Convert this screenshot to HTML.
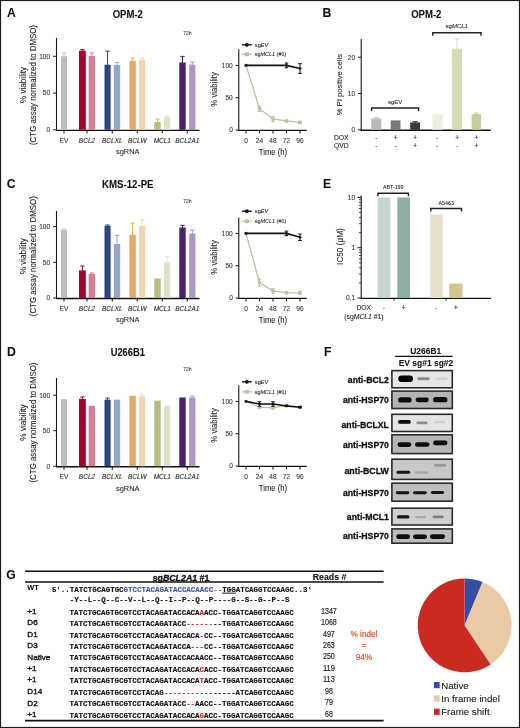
<!DOCTYPE html>
<html><head><meta charset="utf-8"><style>
html,body{margin:0;padding:0;background:#fff;}
svg{display:block;filter:blur(0.3px);}

</style></head><body>
<svg width="520" height="728" viewBox="0 0 520 728">
<defs><filter id="bl" x="-20%" y="-60%" width="140%" height="220%"><feGaussianBlur stdDeviation="0.75"/></filter></defs>
<rect width="520" height="728" fill="#fff"/>
<rect x="0.5" y="0.5" width="519" height="727" fill="none" stroke="#1a1a1a" stroke-width="1.2"/>
<text stroke="#111" stroke-width="0.08" x="7.0" y="17" font-size="12.2" text-anchor="start" font-weight="bold" font-style="normal" fill="#111" font-family="Liberation Sans" >A</text>
<text stroke="#111" stroke-width="0.08" x="322.6" y="17" font-size="12.2" text-anchor="start" font-weight="bold" font-style="normal" fill="#111" font-family="Liberation Sans" >B</text>
<text stroke="#111" stroke-width="0.08" x="6.7" y="187.7" font-size="12.2" text-anchor="start" font-weight="bold" font-style="normal" fill="#111" font-family="Liberation Sans" >C</text>
<text stroke="#111" stroke-width="0.08" x="7.1" y="355.7" font-size="12.2" text-anchor="start" font-weight="bold" font-style="normal" fill="#111" font-family="Liberation Sans" >D</text>
<text stroke="#111" stroke-width="0.08" x="323.0" y="187.9" font-size="12.2" text-anchor="start" font-weight="bold" font-style="normal" fill="#111" font-family="Liberation Sans" >E</text>
<text stroke="#111" stroke-width="0.08" x="324.0" y="355.6" font-size="12.2" text-anchor="start" font-weight="bold" font-style="normal" fill="#111" font-family="Liberation Sans" >F</text>
<text stroke="#111" stroke-width="0.08" x="6.3" y="578.5" font-size="12.2" text-anchor="start" font-weight="bold" font-style="normal" fill="#111" font-family="Liberation Sans" >G</text>
<line x1="56.5" y1="38" x2="56.5" y2="130.3" stroke="#1a1a1a" stroke-width="1.1" />
<line x1="56.0" y1="130.3" x2="199.5" y2="130.3" stroke="#111" stroke-width="1.35" />
<line x1="53.2" y1="129.8" x2="56.5" y2="129.8" stroke="#1a1a1a" stroke-width="1" />
<text stroke="#333" stroke-width="0.08" x="50.2" y="132.20000000000002" font-size="6.6" text-anchor="end" font-weight="normal" font-style="normal" fill="#333" font-family="Liberation Sans" >0</text>
<line x1="53.2" y1="93.05000000000001" x2="56.5" y2="93.05000000000001" stroke="#1a1a1a" stroke-width="1" />
<text stroke="#333" stroke-width="0.08" x="50.2" y="95.45000000000002" font-size="6.6" text-anchor="end" font-weight="normal" font-style="normal" fill="#333" font-family="Liberation Sans" >50</text>
<line x1="53.2" y1="56.3" x2="56.5" y2="56.3" stroke="#1a1a1a" stroke-width="1" />
<text stroke="#333" stroke-width="0.08" x="50.2" y="58.699999999999996" font-size="6.6" text-anchor="end" font-weight="normal" font-style="normal" fill="#333" font-family="Liberation Sans" >100</text>
<line x1="64" y1="129.8" x2="64" y2="133.4" stroke="#222" stroke-width="1.1" />
<line x1="87" y1="129.8" x2="87" y2="133.4" stroke="#222" stroke-width="1.1" />
<line x1="112.3" y1="129.8" x2="112.3" y2="133.4" stroke="#222" stroke-width="1.1" />
<line x1="137.3" y1="129.8" x2="137.3" y2="133.4" stroke="#222" stroke-width="1.1" />
<line x1="162.3" y1="129.8" x2="162.3" y2="133.4" stroke="#222" stroke-width="1.1" />
<line x1="187.3" y1="129.8" x2="187.3" y2="133.4" stroke="#222" stroke-width="1.1" />
<text stroke="#222" stroke-width="0.08" x="64" y="142.5" font-size="6.5" text-anchor="middle" font-weight="normal" font-style="normal" fill="#222" font-family="Liberation Sans" >EV</text>
<text stroke="#222" stroke-width="0.08" x="87" y="142.5" font-size="6.5" text-anchor="middle" font-weight="normal" font-style="italic" fill="#222" font-family="Liberation Sans" >BCL2</text>
<text stroke="#222" stroke-width="0.08" x="112.3" y="142.5" font-size="6.5" text-anchor="middle" font-weight="normal" font-style="italic" fill="#222" font-family="Liberation Sans" >BCLXL</text>
<text stroke="#222" stroke-width="0.08" x="137.3" y="142.5" font-size="6.5" text-anchor="middle" font-weight="normal" font-style="italic" fill="#222" font-family="Liberation Sans" >BCLW</text>
<text stroke="#222" stroke-width="0.08" x="162.3" y="142.5" font-size="6.5" text-anchor="middle" font-weight="normal" font-style="italic" fill="#222" font-family="Liberation Sans" >MCL1</text>
<text stroke="#222" stroke-width="0.08" x="187.3" y="142.5" font-size="6.5" text-anchor="middle" font-weight="normal" font-style="italic" fill="#222" font-family="Liberation Sans" >BCL2A1</text>
<text stroke="#222" stroke-width="0.08" x="127.7" y="154.20000000000002" font-size="8.0" text-anchor="middle" font-weight="normal" font-style="normal" fill="#222" font-family="Liberation Sans" textLength="23.4" lengthAdjust="spacingAndGlyphs">sgRNA</text>
<text stroke="#222" stroke-width="0.08" transform="translate(25.9,85) rotate(-90)" font-size="8.2" text-anchor="middle" fill="#222" font-family="Liberation Sans" textLength="36.3" lengthAdjust="spacingAndGlyphs">% viability</text>
<text stroke="#222" stroke-width="0.08" transform="translate(36.4,85) rotate(-90)" font-size="8.4" text-anchor="middle" fill="#222" font-family="Liberation Sans" textLength="120" lengthAdjust="spacingAndGlyphs">(CTG assay normalized to DMSO)</text>
<text stroke="#111" stroke-width="0.08" x="127.8" y="17.8" font-size="10.2" text-anchor="middle" font-weight="bold" font-style="normal" fill="#111" font-family="Liberation Sans" textLength="30.2" lengthAdjust="spacingAndGlyphs">OPM-2</text>
<text stroke="#333" stroke-width="0.08" x="187.3" y="35" font-size="5.0" text-anchor="middle" font-weight="normal" font-style="normal" fill="#333" font-family="Liberation Sans" >72h</text>
<line x1="64.0" y1="52.9" x2="64.0" y2="57.3" stroke="#bdbdbd" stroke-width="1" />
<line x1="61.8" y1="52.9" x2="66.2" y2="52.9" stroke="#bdbdbd" stroke-width="1" />
<rect x="61" y="56.3" width="6" height="73.50000000000001" fill="#bdbdbd" />
<line x1="82.4" y1="49.6" x2="82.4" y2="51.7" stroke="#a8002c" stroke-width="1" />
<line x1="80.2" y1="49.6" x2="84.60000000000001" y2="49.6" stroke="#a8002c" stroke-width="1" />
<rect x="79" y="50.7" width="6.799999999999997" height="79.10000000000001" fill="#a8002c" />
<line x1="91.8" y1="53" x2="91.8" y2="56.9" stroke="#d47f92" stroke-width="1" />
<line x1="89.6" y1="53" x2="94.0" y2="53" stroke="#d47f92" stroke-width="1" />
<rect x="88.6" y="55.9" width="6.400000000000006" height="73.9" fill="#d47f92" />
<line x1="107.55" y1="51.2" x2="107.55" y2="65.7" stroke="#2d4585" stroke-width="1" />
<line x1="105.35" y1="51.2" x2="109.75" y2="51.2" stroke="#2d4585" stroke-width="1" />
<rect x="104.5" y="64.7" width="6.099999999999994" height="65.10000000000001" fill="#2d4585" />
<line x1="117.0" y1="62.5" x2="117.0" y2="66" stroke="#96a6c4" stroke-width="1" />
<line x1="114.8" y1="62.5" x2="119.2" y2="62.5" stroke="#96a6c4" stroke-width="1" />
<rect x="113.8" y="65" width="6.400000000000006" height="64.80000000000001" fill="#96a6c4" />
<line x1="132.60000000000002" y1="58" x2="132.60000000000002" y2="61.8" stroke="#e5aa66" stroke-width="1" />
<line x1="130.40000000000003" y1="58" x2="134.8" y2="58" stroke="#e5aa66" stroke-width="1" />
<rect x="129.4" y="60.8" width="6.400000000000006" height="69.00000000000001" fill="#e5aa66" />
<line x1="142.1" y1="58" x2="142.1" y2="61" stroke="#f0d4ae" stroke-width="1" />
<line x1="139.9" y1="58" x2="144.29999999999998" y2="58" stroke="#f0d4ae" stroke-width="1" />
<rect x="139" y="60" width="6.199999999999989" height="69.80000000000001" fill="#f0d4ae" />
<line x1="157.5" y1="119" x2="157.5" y2="123" stroke="#b4be80" stroke-width="1" />
<line x1="155.3" y1="119" x2="159.7" y2="119" stroke="#b4be80" stroke-width="1" />
<rect x="154.3" y="122" width="6.399999999999977" height="7.800000000000011" fill="#b4be80" />
<line x1="167.1" y1="116" x2="167.1" y2="118.2" stroke="#dce2c8" stroke-width="1" />
<line x1="164.9" y1="116" x2="169.29999999999998" y2="116" stroke="#dce2c8" stroke-width="1" />
<rect x="164" y="117.2" width="6.199999999999989" height="12.600000000000009" fill="#dce2c8" />
<line x1="182.5" y1="56.4" x2="182.5" y2="63.5" stroke="#4a2068" stroke-width="1" />
<line x1="180.3" y1="56.4" x2="184.7" y2="56.4" stroke="#4a2068" stroke-width="1" />
<rect x="179.3" y="62.5" width="6.399999999999977" height="67.30000000000001" fill="#4a2068" />
<line x1="192.3" y1="62" x2="192.3" y2="65.6" stroke="#a898c4" stroke-width="1" />
<line x1="190.10000000000002" y1="62" x2="194.5" y2="62" stroke="#a898c4" stroke-width="1" />
<rect x="189.2" y="64.6" width="6.200000000000017" height="65.20000000000002" fill="#a898c4" />
<line x1="56.5" y1="211" x2="56.5" y2="298.5" stroke="#1a1a1a" stroke-width="1.1" />
<line x1="56.0" y1="298.5" x2="199.5" y2="298.5" stroke="#111" stroke-width="1.35" />
<line x1="53.2" y1="298" x2="56.5" y2="298" stroke="#1a1a1a" stroke-width="1" />
<text stroke="#333" stroke-width="0.08" x="50.2" y="300.4" font-size="6.6" text-anchor="end" font-weight="normal" font-style="normal" fill="#333" font-family="Liberation Sans" >0</text>
<line x1="53.2" y1="262.3" x2="56.5" y2="262.3" stroke="#1a1a1a" stroke-width="1" />
<text stroke="#333" stroke-width="0.08" x="50.2" y="264.7" font-size="6.6" text-anchor="end" font-weight="normal" font-style="normal" fill="#333" font-family="Liberation Sans" >50</text>
<line x1="53.2" y1="226.6" x2="56.5" y2="226.6" stroke="#1a1a1a" stroke-width="1" />
<text stroke="#333" stroke-width="0.08" x="50.2" y="229.0" font-size="6.6" text-anchor="end" font-weight="normal" font-style="normal" fill="#333" font-family="Liberation Sans" >100</text>
<line x1="64" y1="298" x2="64" y2="301.6" stroke="#222" stroke-width="1.1" />
<line x1="87" y1="298" x2="87" y2="301.6" stroke="#222" stroke-width="1.1" />
<line x1="112.3" y1="298" x2="112.3" y2="301.6" stroke="#222" stroke-width="1.1" />
<line x1="137.3" y1="298" x2="137.3" y2="301.6" stroke="#222" stroke-width="1.1" />
<line x1="162.3" y1="298" x2="162.3" y2="301.6" stroke="#222" stroke-width="1.1" />
<line x1="187.3" y1="298" x2="187.3" y2="301.6" stroke="#222" stroke-width="1.1" />
<text stroke="#222" stroke-width="0.08" x="64" y="310.7" font-size="6.5" text-anchor="middle" font-weight="normal" font-style="normal" fill="#222" font-family="Liberation Sans" >EV</text>
<text stroke="#222" stroke-width="0.08" x="87" y="310.7" font-size="6.5" text-anchor="middle" font-weight="normal" font-style="italic" fill="#222" font-family="Liberation Sans" >BCL2</text>
<text stroke="#222" stroke-width="0.08" x="112.3" y="310.7" font-size="6.5" text-anchor="middle" font-weight="normal" font-style="italic" fill="#222" font-family="Liberation Sans" >BCLXL</text>
<text stroke="#222" stroke-width="0.08" x="137.3" y="310.7" font-size="6.5" text-anchor="middle" font-weight="normal" font-style="italic" fill="#222" font-family="Liberation Sans" >BCLW</text>
<text stroke="#222" stroke-width="0.08" x="162.3" y="310.7" font-size="6.5" text-anchor="middle" font-weight="normal" font-style="italic" fill="#222" font-family="Liberation Sans" >MCL1</text>
<text stroke="#222" stroke-width="0.08" x="187.3" y="310.7" font-size="6.5" text-anchor="middle" font-weight="normal" font-style="italic" fill="#222" font-family="Liberation Sans" >BCL2A1</text>
<text stroke="#222" stroke-width="0.08" x="127.7" y="322.4" font-size="8.0" text-anchor="middle" font-weight="normal" font-style="normal" fill="#222" font-family="Liberation Sans" textLength="23.4" lengthAdjust="spacingAndGlyphs">sgRNA</text>
<text stroke="#222" stroke-width="0.08" transform="translate(25.9,256.2) rotate(-90)" font-size="8.2" text-anchor="middle" fill="#222" font-family="Liberation Sans" textLength="36.3" lengthAdjust="spacingAndGlyphs">% viability</text>
<text stroke="#222" stroke-width="0.08" transform="translate(36.4,256.2) rotate(-90)" font-size="8.4" text-anchor="middle" fill="#222" font-family="Liberation Sans" textLength="120" lengthAdjust="spacingAndGlyphs">(CTG assay normalized to DMSO)</text>
<text stroke="#111" stroke-width="0.08" x="127.8" y="188" font-size="10.2" text-anchor="middle" font-weight="bold" font-style="normal" fill="#111" font-family="Liberation Sans" textLength="51.4" lengthAdjust="spacingAndGlyphs">KMS-12-PE</text>
<text stroke="#333" stroke-width="0.08" x="187.3" y="203" font-size="5.0" text-anchor="middle" font-weight="normal" font-style="normal" fill="#333" font-family="Liberation Sans" >72h</text>
<line x1="64.0" y1="229" x2="64.0" y2="231" stroke="#bdbdbd" stroke-width="1" />
<line x1="61.8" y1="229" x2="66.2" y2="229" stroke="#bdbdbd" stroke-width="1" />
<rect x="61" y="230" width="6" height="68" fill="#bdbdbd" />
<line x1="82.4" y1="266" x2="82.4" y2="271.4" stroke="#a8002c" stroke-width="1" />
<line x1="80.2" y1="266" x2="84.60000000000001" y2="266" stroke="#a8002c" stroke-width="1" />
<rect x="79" y="270.4" width="6.799999999999997" height="27.600000000000023" fill="#a8002c" />
<line x1="91.8" y1="273" x2="91.8" y2="274.9" stroke="#d47f92" stroke-width="1" />
<line x1="89.6" y1="273" x2="94.0" y2="273" stroke="#d47f92" stroke-width="1" />
<rect x="88.6" y="273.9" width="6.400000000000006" height="24.100000000000023" fill="#d47f92" />
<line x1="107.55" y1="225" x2="107.55" y2="226.8" stroke="#2d4585" stroke-width="1" />
<line x1="105.35" y1="225" x2="109.75" y2="225" stroke="#2d4585" stroke-width="1" />
<rect x="104.5" y="225.8" width="6.099999999999994" height="72.19999999999999" fill="#2d4585" />
<line x1="117.0" y1="235.3" x2="117.0" y2="245" stroke="#96a6c4" stroke-width="1" />
<line x1="114.8" y1="235.3" x2="119.2" y2="235.3" stroke="#96a6c4" stroke-width="1" />
<rect x="113.8" y="244" width="6.400000000000006" height="54" fill="#96a6c4" />
<line x1="132.60000000000002" y1="223.2" x2="132.60000000000002" y2="235.8" stroke="#e5aa66" stroke-width="1" />
<line x1="130.40000000000003" y1="223.2" x2="134.8" y2="223.2" stroke="#e5aa66" stroke-width="1" />
<rect x="129.4" y="234.8" width="6.400000000000006" height="63.19999999999999" fill="#e5aa66" />
<line x1="142.1" y1="219.7" x2="142.1" y2="226.8" stroke="#f0d4ae" stroke-width="1" />
<line x1="139.9" y1="219.7" x2="144.29999999999998" y2="219.7" stroke="#f0d4ae" stroke-width="1" />
<rect x="139" y="225.8" width="6.199999999999989" height="72.19999999999999" fill="#f0d4ae" />
<rect x="154.3" y="278.5" width="6.399999999999977" height="19.5" fill="#b4be80" />
<line x1="167.1" y1="256.6" x2="167.1" y2="263.4" stroke="#dce2c8" stroke-width="1" />
<line x1="164.9" y1="256.6" x2="169.29999999999998" y2="256.6" stroke="#dce2c8" stroke-width="1" />
<rect x="164" y="262.4" width="6.199999999999989" height="35.60000000000002" fill="#dce2c8" />
<line x1="182.5" y1="225.4" x2="182.5" y2="228.5" stroke="#4a2068" stroke-width="1" />
<line x1="180.3" y1="225.4" x2="184.7" y2="225.4" stroke="#4a2068" stroke-width="1" />
<rect x="179.3" y="227.5" width="6.399999999999977" height="70.5" fill="#4a2068" />
<line x1="192.3" y1="230" x2="192.3" y2="234.5" stroke="#a898c4" stroke-width="1" />
<line x1="190.10000000000002" y1="230" x2="194.5" y2="230" stroke="#a898c4" stroke-width="1" />
<rect x="189.2" y="233.5" width="6.200000000000017" height="64.5" fill="#a898c4" />
<line x1="56.5" y1="378" x2="56.5" y2="466.7" stroke="#1a1a1a" stroke-width="1.1" />
<line x1="56.0" y1="466.7" x2="199.5" y2="466.7" stroke="#111" stroke-width="1.35" />
<line x1="53.2" y1="466.2" x2="56.5" y2="466.2" stroke="#1a1a1a" stroke-width="1" />
<text stroke="#333" stroke-width="0.08" x="50.2" y="468.59999999999997" font-size="6.6" text-anchor="end" font-weight="normal" font-style="normal" fill="#333" font-family="Liberation Sans" >0</text>
<line x1="53.2" y1="430.7" x2="56.5" y2="430.7" stroke="#1a1a1a" stroke-width="1" />
<text stroke="#333" stroke-width="0.08" x="50.2" y="433.09999999999997" font-size="6.6" text-anchor="end" font-weight="normal" font-style="normal" fill="#333" font-family="Liberation Sans" >50</text>
<line x1="53.2" y1="395.2" x2="56.5" y2="395.2" stroke="#1a1a1a" stroke-width="1" />
<text stroke="#333" stroke-width="0.08" x="50.2" y="397.59999999999997" font-size="6.6" text-anchor="end" font-weight="normal" font-style="normal" fill="#333" font-family="Liberation Sans" >100</text>
<line x1="64" y1="466.2" x2="64" y2="469.8" stroke="#222" stroke-width="1.1" />
<line x1="87" y1="466.2" x2="87" y2="469.8" stroke="#222" stroke-width="1.1" />
<line x1="112.3" y1="466.2" x2="112.3" y2="469.8" stroke="#222" stroke-width="1.1" />
<line x1="137.3" y1="466.2" x2="137.3" y2="469.8" stroke="#222" stroke-width="1.1" />
<line x1="162.3" y1="466.2" x2="162.3" y2="469.8" stroke="#222" stroke-width="1.1" />
<line x1="187.3" y1="466.2" x2="187.3" y2="469.8" stroke="#222" stroke-width="1.1" />
<text stroke="#222" stroke-width="0.08" x="64" y="478.9" font-size="6.5" text-anchor="middle" font-weight="normal" font-style="normal" fill="#222" font-family="Liberation Sans" >EV</text>
<text stroke="#222" stroke-width="0.08" x="87" y="478.9" font-size="6.5" text-anchor="middle" font-weight="normal" font-style="italic" fill="#222" font-family="Liberation Sans" >BCL2</text>
<text stroke="#222" stroke-width="0.08" x="112.3" y="478.9" font-size="6.5" text-anchor="middle" font-weight="normal" font-style="italic" fill="#222" font-family="Liberation Sans" >BCLXL</text>
<text stroke="#222" stroke-width="0.08" x="137.3" y="478.9" font-size="6.5" text-anchor="middle" font-weight="normal" font-style="italic" fill="#222" font-family="Liberation Sans" >BCLW</text>
<text stroke="#222" stroke-width="0.08" x="162.3" y="478.9" font-size="6.5" text-anchor="middle" font-weight="normal" font-style="italic" fill="#222" font-family="Liberation Sans" >MCL1</text>
<text stroke="#222" stroke-width="0.08" x="187.3" y="478.9" font-size="6.5" text-anchor="middle" font-weight="normal" font-style="italic" fill="#222" font-family="Liberation Sans" >BCL2A1</text>
<text stroke="#222" stroke-width="0.08" x="127.7" y="490.59999999999997" font-size="8.0" text-anchor="middle" font-weight="normal" font-style="normal" fill="#222" font-family="Liberation Sans" textLength="23.4" lengthAdjust="spacingAndGlyphs">sgRNA</text>
<text stroke="#222" stroke-width="0.08" transform="translate(25.9,422.5) rotate(-90)" font-size="8.2" text-anchor="middle" fill="#222" font-family="Liberation Sans" textLength="36.3" lengthAdjust="spacingAndGlyphs">% viability</text>
<text stroke="#222" stroke-width="0.08" transform="translate(36.4,422.5) rotate(-90)" font-size="8.4" text-anchor="middle" fill="#222" font-family="Liberation Sans" textLength="120" lengthAdjust="spacingAndGlyphs">(CTG assay normalized to DMSO)</text>
<text stroke="#111" stroke-width="0.08" x="127.8" y="356.4" font-size="10.2" text-anchor="middle" font-weight="bold" font-style="normal" fill="#111" font-family="Liberation Sans" textLength="34.2" lengthAdjust="spacingAndGlyphs">U266B1</text>
<text stroke="#333" stroke-width="0.08" x="187.3" y="370.5" font-size="5.0" text-anchor="middle" font-weight="normal" font-style="normal" fill="#333" font-family="Liberation Sans" >72h</text>
<rect x="61" y="399.2" width="6" height="67.0" fill="#bdbdbd" />
<line x1="82.4" y1="397" x2="82.4" y2="399.9" stroke="#a8002c" stroke-width="1" />
<line x1="80.2" y1="397" x2="84.60000000000001" y2="397" stroke="#a8002c" stroke-width="1" />
<rect x="79" y="398.9" width="6.799999999999997" height="67.30000000000001" fill="#a8002c" />
<rect x="88.6" y="405.8" width="6.400000000000006" height="60.39999999999998" fill="#d47f92" />
<line x1="107.55" y1="398" x2="107.55" y2="400.7" stroke="#2d4585" stroke-width="1" />
<line x1="105.35" y1="398" x2="109.75" y2="398" stroke="#2d4585" stroke-width="1" />
<rect x="104.5" y="399.7" width="6.099999999999994" height="66.5" fill="#2d4585" />
<rect x="113.8" y="399.6" width="6.400000000000006" height="66.59999999999997" fill="#96a6c4" />
<rect x="129.4" y="395.8" width="6.400000000000006" height="70.39999999999998" fill="#e5aa66" />
<line x1="142.1" y1="395" x2="142.1" y2="397.6" stroke="#f0d4ae" stroke-width="1" />
<line x1="139.9" y1="395" x2="144.29999999999998" y2="395" stroke="#f0d4ae" stroke-width="1" />
<rect x="139" y="396.6" width="6.199999999999989" height="69.59999999999997" fill="#f0d4ae" />
<rect x="154.3" y="400.6" width="6.399999999999977" height="65.59999999999997" fill="#b4be80" />
<rect x="164" y="405.8" width="6.199999999999989" height="60.39999999999998" fill="#dce2c8" />
<rect x="179.3" y="397.5" width="6.399999999999977" height="68.69999999999999" fill="#4a2068" />
<line x1="192.3" y1="396" x2="192.3" y2="398.5" stroke="#a898c4" stroke-width="1" />
<line x1="190.10000000000002" y1="396" x2="194.5" y2="396" stroke="#a898c4" stroke-width="1" />
<rect x="189.2" y="397.5" width="6.200000000000017" height="68.69999999999999" fill="#a898c4" />
<line x1="238.8" y1="49.2" x2="238.8" y2="130.5" stroke="#1a1a1a" stroke-width="1.1" />
<line x1="238.3" y1="130.4" x2="306.8" y2="130.4" stroke="#111" stroke-width="1.35" />
<line x1="235.6" y1="130.0" x2="238.8" y2="130.0" stroke="#1a1a1a" stroke-width="1" />
<text stroke="#333" stroke-width="0.08" x="232.8" y="132.4" font-size="6.6" text-anchor="end" font-weight="normal" font-style="normal" fill="#333" font-family="Liberation Sans" >0</text>
<line x1="235.6" y1="97.69999999999999" x2="238.8" y2="97.69999999999999" stroke="#1a1a1a" stroke-width="1" />
<text stroke="#333" stroke-width="0.08" x="232.8" y="100.1" font-size="6.6" text-anchor="end" font-weight="normal" font-style="normal" fill="#333" font-family="Liberation Sans" >50</text>
<line x1="235.6" y1="65.39999999999999" x2="238.8" y2="65.39999999999999" stroke="#1a1a1a" stroke-width="1" />
<text stroke="#333" stroke-width="0.08" x="232.8" y="67.8" font-size="6.6" text-anchor="end" font-weight="normal" font-style="normal" fill="#333" font-family="Liberation Sans" >100</text>
<line x1="246" y1="130" x2="246" y2="133.4" stroke="#222" stroke-width="1.1" />
<text stroke="#333" stroke-width="0.08" x="246" y="143" font-size="6.6" text-anchor="middle" font-weight="normal" font-style="normal" fill="#333" font-family="Liberation Sans" >0</text>
<line x1="259.5" y1="130" x2="259.5" y2="133.4" stroke="#222" stroke-width="1.1" />
<text stroke="#333" stroke-width="0.08" x="259.5" y="143" font-size="6.6" text-anchor="middle" font-weight="normal" font-style="normal" fill="#333" font-family="Liberation Sans" >24</text>
<line x1="273" y1="130" x2="273" y2="133.4" stroke="#222" stroke-width="1.1" />
<text stroke="#333" stroke-width="0.08" x="273" y="143" font-size="6.6" text-anchor="middle" font-weight="normal" font-style="normal" fill="#333" font-family="Liberation Sans" >48</text>
<line x1="286.5" y1="130" x2="286.5" y2="133.4" stroke="#222" stroke-width="1.1" />
<text stroke="#333" stroke-width="0.08" x="286.5" y="143" font-size="6.6" text-anchor="middle" font-weight="normal" font-style="normal" fill="#333" font-family="Liberation Sans" >72</text>
<line x1="300" y1="130" x2="300" y2="133.4" stroke="#222" stroke-width="1.1" />
<text stroke="#333" stroke-width="0.08" x="300" y="143" font-size="6.6" text-anchor="middle" font-weight="normal" font-style="normal" fill="#333" font-family="Liberation Sans" >96</text>
<text stroke="#222" stroke-width="0.08" x="273.0" y="154.5" font-size="8.8" text-anchor="middle" font-weight="normal" font-style="normal" fill="#222" font-family="Liberation Sans" textLength="28.3" lengthAdjust="spacingAndGlyphs">Time (h)</text>
<text stroke="#222" stroke-width="0.08" transform="translate(217.2,89.4) rotate(-90)" font-size="8.2" text-anchor="middle" fill="#222" font-family="Liberation Sans" textLength="34.6" lengthAdjust="spacingAndGlyphs">% viability</text>
<line x1="242" y1="44.8" x2="251.8" y2="44.8" stroke="#111" stroke-width="1.4" />
<circle cx="246.8" cy="44.8" r="1.9" fill="#111"/>
<line x1="242" y1="54.3" x2="251.8" y2="54.3" stroke="#bcc09c" stroke-width="1.2" />
<rect x="244.7" y="52.4" width="4.2" height="3.8" fill="#bcc09c" />
<text stroke="#222" stroke-width="0.08" x="254.8" y="46.8" font-size="5.7" fill="#222" font-family="Liberation Sans">sg<tspan font-style="italic">EV</tspan></text>
<text stroke="#222" stroke-width="0.08" x="254.8" y="56.3" font-size="5.7" fill="#222" font-family="Liberation Sans" textLength="31.5" lengthAdjust="spacingAndGlyphs">sg<tspan font-style="italic">MCL1</tspan> (#1)</text>
<polyline points="246,65.39999999999999 259.5,108.682 273,119.018 286.5,120.956 300,122.3772" fill="none" stroke="#bcc09c" stroke-width="1.25"/>
<rect x="244.4" y="63.79999999999999" width="3.2" height="3.2" fill="#bcc09c" />
<line x1="259.5" y1="105.9042" x2="259.5" y2="111.4598" stroke="#bcc09c" stroke-width="1" />
<line x1="257.7" y1="105.9042" x2="261.3" y2="105.9042" stroke="#bcc09c" stroke-width="1" />
<line x1="257.7" y1="111.4598" x2="261.3" y2="111.4598" stroke="#bcc09c" stroke-width="1" />
<rect x="257.9" y="107.08200000000001" width="3.2" height="3.2" fill="#bcc09c" />
<line x1="273" y1="116.434" x2="273" y2="121.602" stroke="#bcc09c" stroke-width="1" />
<line x1="271.2" y1="116.434" x2="274.8" y2="116.434" stroke="#bcc09c" stroke-width="1" />
<line x1="271.2" y1="121.602" x2="274.8" y2="121.602" stroke="#bcc09c" stroke-width="1" />
<rect x="271.4" y="117.418" width="3.2" height="3.2" fill="#bcc09c" />
<line x1="286.5" y1="119.987" x2="286.5" y2="121.925" stroke="#bcc09c" stroke-width="1" />
<line x1="284.7" y1="119.987" x2="288.3" y2="119.987" stroke="#bcc09c" stroke-width="1" />
<line x1="284.7" y1="121.925" x2="288.3" y2="121.925" stroke="#bcc09c" stroke-width="1" />
<rect x="284.9" y="119.35600000000001" width="3.2" height="3.2" fill="#bcc09c" />
<line x1="300" y1="121.0852" x2="300" y2="123.6692" stroke="#bcc09c" stroke-width="1" />
<line x1="298.2" y1="121.0852" x2="301.8" y2="121.0852" stroke="#bcc09c" stroke-width="1" />
<line x1="298.2" y1="123.6692" x2="301.8" y2="123.6692" stroke="#bcc09c" stroke-width="1" />
<rect x="298.4" y="120.77720000000001" width="3.2" height="3.2" fill="#bcc09c" />
<polyline points="246,65.39999999999999 286.5,65.39999999999999 300,68.5008" fill="none" stroke="#111" stroke-width="1.6"/>
<circle cx="246" cy="65.39999999999999" r="1.4" fill="#111"/>
<line x1="286.5" y1="63.0098" x2="286.5" y2="67.7902" stroke="#111" stroke-width="1" />
<line x1="284.7" y1="63.0098" x2="288.3" y2="63.0098" stroke="#111" stroke-width="1" />
<line x1="284.7" y1="67.7902" x2="288.3" y2="67.7902" stroke="#111" stroke-width="1" />
<circle cx="286.5" cy="65.39999999999999" r="1.4" fill="#111"/>
<line x1="300" y1="63.6558" x2="300" y2="73.3458" stroke="#111" stroke-width="1" />
<line x1="298.2" y1="63.6558" x2="301.8" y2="63.6558" stroke="#111" stroke-width="1" />
<line x1="298.2" y1="73.3458" x2="301.8" y2="73.3458" stroke="#111" stroke-width="1" />
<circle cx="300" cy="68.5008" r="1.4" fill="#111"/>
<line x1="238.8" y1="217.6" x2="238.8" y2="298.5" stroke="#1a1a1a" stroke-width="1.1" />
<line x1="238.3" y1="298.4" x2="306.8" y2="298.4" stroke="#111" stroke-width="1.35" />
<line x1="235.6" y1="298.0" x2="238.8" y2="298.0" stroke="#1a1a1a" stroke-width="1" />
<text stroke="#333" stroke-width="0.08" x="232.8" y="300.4" font-size="6.6" text-anchor="end" font-weight="normal" font-style="normal" fill="#333" font-family="Liberation Sans" >0</text>
<line x1="235.6" y1="265.7" x2="238.8" y2="265.7" stroke="#1a1a1a" stroke-width="1" />
<text stroke="#333" stroke-width="0.08" x="232.8" y="268.09999999999997" font-size="6.6" text-anchor="end" font-weight="normal" font-style="normal" fill="#333" font-family="Liberation Sans" >50</text>
<line x1="235.6" y1="233.39999999999998" x2="238.8" y2="233.39999999999998" stroke="#1a1a1a" stroke-width="1" />
<text stroke="#333" stroke-width="0.08" x="232.8" y="235.79999999999998" font-size="6.6" text-anchor="end" font-weight="normal" font-style="normal" fill="#333" font-family="Liberation Sans" >100</text>
<line x1="246" y1="298" x2="246" y2="301.4" stroke="#222" stroke-width="1.1" />
<text stroke="#333" stroke-width="0.08" x="246" y="311" font-size="6.6" text-anchor="middle" font-weight="normal" font-style="normal" fill="#333" font-family="Liberation Sans" >0</text>
<line x1="259.5" y1="298" x2="259.5" y2="301.4" stroke="#222" stroke-width="1.1" />
<text stroke="#333" stroke-width="0.08" x="259.5" y="311" font-size="6.6" text-anchor="middle" font-weight="normal" font-style="normal" fill="#333" font-family="Liberation Sans" >24</text>
<line x1="273" y1="298" x2="273" y2="301.4" stroke="#222" stroke-width="1.1" />
<text stroke="#333" stroke-width="0.08" x="273" y="311" font-size="6.6" text-anchor="middle" font-weight="normal" font-style="normal" fill="#333" font-family="Liberation Sans" >48</text>
<line x1="286.5" y1="298" x2="286.5" y2="301.4" stroke="#222" stroke-width="1.1" />
<text stroke="#333" stroke-width="0.08" x="286.5" y="311" font-size="6.6" text-anchor="middle" font-weight="normal" font-style="normal" fill="#333" font-family="Liberation Sans" >72</text>
<line x1="300" y1="298" x2="300" y2="301.4" stroke="#222" stroke-width="1.1" />
<text stroke="#333" stroke-width="0.08" x="300" y="311" font-size="6.6" text-anchor="middle" font-weight="normal" font-style="normal" fill="#333" font-family="Liberation Sans" >96</text>
<text stroke="#222" stroke-width="0.08" x="273.0" y="322.5" font-size="8.8" text-anchor="middle" font-weight="normal" font-style="normal" fill="#222" font-family="Liberation Sans" textLength="28.3" lengthAdjust="spacingAndGlyphs">Time (h)</text>
<text stroke="#222" stroke-width="0.08" transform="translate(217.2,257.4) rotate(-90)" font-size="8.2" text-anchor="middle" fill="#222" font-family="Liberation Sans" textLength="34.6" lengthAdjust="spacingAndGlyphs">% viability</text>
<line x1="242" y1="211.2" x2="251.8" y2="211.2" stroke="#111" stroke-width="1.4" />
<circle cx="246.8" cy="211.2" r="1.9" fill="#111"/>
<line x1="242" y1="221.2" x2="251.8" y2="221.2" stroke="#bcc09c" stroke-width="1.2" />
<rect x="244.7" y="219.29999999999998" width="4.2" height="3.8" fill="#bcc09c" />
<text stroke="#222" stroke-width="0.08" x="254.8" y="213.2" font-size="5.7" fill="#222" font-family="Liberation Sans">sg<tspan font-style="italic">EV</tspan></text>
<text stroke="#222" stroke-width="0.08" x="254.8" y="223.2" font-size="5.7" fill="#222" font-family="Liberation Sans" textLength="31.5" lengthAdjust="spacingAndGlyphs">sg<tspan font-style="italic">MCL1</tspan> (#1)</text>
<polyline points="246,233.39999999999998 259.5,282.496 273,290.894 286.5,292.832 300,292.832" fill="none" stroke="#bcc09c" stroke-width="1.25"/>
<rect x="244.4" y="231.79999999999998" width="3.2" height="3.2" fill="#bcc09c" />
<line x1="259.5" y1="278.943" x2="259.5" y2="286.049" stroke="#bcc09c" stroke-width="1" />
<line x1="257.7" y1="278.943" x2="261.3" y2="278.943" stroke="#bcc09c" stroke-width="1" />
<line x1="257.7" y1="286.049" x2="261.3" y2="286.049" stroke="#bcc09c" stroke-width="1" />
<rect x="257.9" y="280.89599999999996" width="3.2" height="3.2" fill="#bcc09c" />
<line x1="273" y1="288.633" x2="273" y2="293.155" stroke="#bcc09c" stroke-width="1" />
<line x1="271.2" y1="288.633" x2="274.8" y2="288.633" stroke="#bcc09c" stroke-width="1" />
<line x1="271.2" y1="293.155" x2="274.8" y2="293.155" stroke="#bcc09c" stroke-width="1" />
<rect x="271.4" y="289.294" width="3.2" height="3.2" fill="#bcc09c" />
<line x1="286.5" y1="291.863" x2="286.5" y2="293.801" stroke="#bcc09c" stroke-width="1" />
<line x1="284.7" y1="291.863" x2="288.3" y2="291.863" stroke="#bcc09c" stroke-width="1" />
<line x1="284.7" y1="293.801" x2="288.3" y2="293.801" stroke="#bcc09c" stroke-width="1" />
<rect x="284.9" y="291.23199999999997" width="3.2" height="3.2" fill="#bcc09c" />
<line x1="300" y1="291.217" x2="300" y2="294.447" stroke="#bcc09c" stroke-width="1" />
<line x1="298.2" y1="291.217" x2="301.8" y2="291.217" stroke="#bcc09c" stroke-width="1" />
<line x1="298.2" y1="294.447" x2="301.8" y2="294.447" stroke="#bcc09c" stroke-width="1" />
<rect x="298.4" y="291.23199999999997" width="3.2" height="3.2" fill="#bcc09c" />
<polyline points="246,233.39999999999998 286.5,233.39999999999998 300,237.276" fill="none" stroke="#111" stroke-width="1.6"/>
<circle cx="246" cy="233.39999999999998" r="1.4" fill="#111"/>
<line x1="286.5" y1="231.139" x2="286.5" y2="235.661" stroke="#111" stroke-width="1" />
<line x1="284.7" y1="231.139" x2="288.3" y2="231.139" stroke="#111" stroke-width="1" />
<line x1="284.7" y1="235.661" x2="288.3" y2="235.661" stroke="#111" stroke-width="1" />
<circle cx="286.5" cy="233.39999999999998" r="1.4" fill="#111"/>
<line x1="300" y1="234.046" x2="300" y2="240.506" stroke="#111" stroke-width="1" />
<line x1="298.2" y1="234.046" x2="301.8" y2="234.046" stroke="#111" stroke-width="1" />
<line x1="298.2" y1="240.506" x2="301.8" y2="240.506" stroke="#111" stroke-width="1" />
<circle cx="300" cy="237.276" r="1.4" fill="#111"/>
<line x1="238.8" y1="385.2" x2="238.8" y2="466.5" stroke="#1a1a1a" stroke-width="1.1" />
<line x1="238.3" y1="466.4" x2="306.8" y2="466.4" stroke="#111" stroke-width="1.35" />
<line x1="235.6" y1="466.0" x2="238.8" y2="466.0" stroke="#1a1a1a" stroke-width="1" />
<text stroke="#333" stroke-width="0.08" x="232.8" y="468.4" font-size="6.6" text-anchor="end" font-weight="normal" font-style="normal" fill="#333" font-family="Liberation Sans" >0</text>
<line x1="235.6" y1="433.7" x2="238.8" y2="433.7" stroke="#1a1a1a" stroke-width="1" />
<text stroke="#333" stroke-width="0.08" x="232.8" y="436.09999999999997" font-size="6.6" text-anchor="end" font-weight="normal" font-style="normal" fill="#333" font-family="Liberation Sans" >50</text>
<line x1="235.6" y1="401.4" x2="238.8" y2="401.4" stroke="#1a1a1a" stroke-width="1" />
<text stroke="#333" stroke-width="0.08" x="232.8" y="403.79999999999995" font-size="6.6" text-anchor="end" font-weight="normal" font-style="normal" fill="#333" font-family="Liberation Sans" >100</text>
<line x1="246" y1="466" x2="246" y2="469.4" stroke="#222" stroke-width="1.1" />
<text stroke="#333" stroke-width="0.08" x="246" y="479" font-size="6.6" text-anchor="middle" font-weight="normal" font-style="normal" fill="#333" font-family="Liberation Sans" >0</text>
<line x1="259.5" y1="466" x2="259.5" y2="469.4" stroke="#222" stroke-width="1.1" />
<text stroke="#333" stroke-width="0.08" x="259.5" y="479" font-size="6.6" text-anchor="middle" font-weight="normal" font-style="normal" fill="#333" font-family="Liberation Sans" >24</text>
<line x1="273" y1="466" x2="273" y2="469.4" stroke="#222" stroke-width="1.1" />
<text stroke="#333" stroke-width="0.08" x="273" y="479" font-size="6.6" text-anchor="middle" font-weight="normal" font-style="normal" fill="#333" font-family="Liberation Sans" >48</text>
<line x1="286.5" y1="466" x2="286.5" y2="469.4" stroke="#222" stroke-width="1.1" />
<text stroke="#333" stroke-width="0.08" x="286.5" y="479" font-size="6.6" text-anchor="middle" font-weight="normal" font-style="normal" fill="#333" font-family="Liberation Sans" >72</text>
<line x1="300" y1="466" x2="300" y2="469.4" stroke="#222" stroke-width="1.1" />
<text stroke="#333" stroke-width="0.08" x="300" y="479" font-size="6.6" text-anchor="middle" font-weight="normal" font-style="normal" fill="#333" font-family="Liberation Sans" >96</text>
<text stroke="#222" stroke-width="0.08" x="273.0" y="490.5" font-size="8.8" text-anchor="middle" font-weight="normal" font-style="normal" fill="#222" font-family="Liberation Sans" textLength="28.3" lengthAdjust="spacingAndGlyphs">Time (h)</text>
<text stroke="#222" stroke-width="0.08" transform="translate(217.2,425.4) rotate(-90)" font-size="8.2" text-anchor="middle" fill="#222" font-family="Liberation Sans" textLength="34.6" lengthAdjust="spacingAndGlyphs">% viability</text>
<line x1="242" y1="381.8" x2="251.8" y2="381.8" stroke="#111" stroke-width="1.4" />
<circle cx="246.8" cy="381.8" r="1.9" fill="#111"/>
<line x1="242" y1="391.8" x2="251.8" y2="391.8" stroke="#bcc09c" stroke-width="1.2" />
<rect x="244.7" y="389.90000000000003" width="4.2" height="3.8" fill="#bcc09c" />
<text stroke="#222" stroke-width="0.08" x="254.8" y="383.8" font-size="5.7" fill="#222" font-family="Liberation Sans">sg<tspan font-style="italic">EV</tspan></text>
<text stroke="#222" stroke-width="0.08" x="254.8" y="393.8" font-size="5.7" fill="#222" font-family="Liberation Sans" textLength="31.5" lengthAdjust="spacingAndGlyphs">sg<tspan font-style="italic">MCL1</tspan> (#1)</text>
<polyline points="246,401.4 259.5,407.214 273,407.86 286.5,405.276 300,407.214" fill="none" stroke="#bcc09c" stroke-width="1.25"/>
<rect x="244.4" y="399.79999999999995" width="3.2" height="3.2" fill="#bcc09c" />
<line x1="259.5" y1="406.245" x2="259.5" y2="408.183" stroke="#bcc09c" stroke-width="1" />
<line x1="257.7" y1="406.245" x2="261.3" y2="406.245" stroke="#bcc09c" stroke-width="1" />
<line x1="257.7" y1="408.183" x2="261.3" y2="408.183" stroke="#bcc09c" stroke-width="1" />
<rect x="257.9" y="405.614" width="3.2" height="3.2" fill="#bcc09c" />
<line x1="273" y1="406.568" x2="273" y2="409.152" stroke="#bcc09c" stroke-width="1" />
<line x1="271.2" y1="406.568" x2="274.8" y2="406.568" stroke="#bcc09c" stroke-width="1" />
<line x1="271.2" y1="409.152" x2="274.8" y2="409.152" stroke="#bcc09c" stroke-width="1" />
<rect x="271.4" y="406.26" width="3.2" height="3.2" fill="#bcc09c" />
<line x1="286.5" y1="404.63" x2="286.5" y2="405.922" stroke="#bcc09c" stroke-width="1" />
<line x1="284.7" y1="404.63" x2="288.3" y2="404.63" stroke="#bcc09c" stroke-width="1" />
<line x1="284.7" y1="405.922" x2="288.3" y2="405.922" stroke="#bcc09c" stroke-width="1" />
<rect x="284.9" y="403.676" width="3.2" height="3.2" fill="#bcc09c" />
<line x1="300" y1="406.568" x2="300" y2="407.86" stroke="#bcc09c" stroke-width="1" />
<line x1="298.2" y1="406.568" x2="301.8" y2="406.568" stroke="#bcc09c" stroke-width="1" />
<line x1="298.2" y1="407.86" x2="301.8" y2="407.86" stroke="#bcc09c" stroke-width="1" />
<rect x="298.4" y="405.614" width="3.2" height="3.2" fill="#bcc09c" />
<polyline points="246,401.4 259.5,403.984 273,403.984 286.5,405.922 300,407.214" fill="none" stroke="#111" stroke-width="1.6"/>
<circle cx="246" cy="401.4" r="1.4" fill="#111"/>
<line x1="259.5" y1="401.723" x2="259.5" y2="406.245" stroke="#111" stroke-width="1" />
<line x1="257.7" y1="401.723" x2="261.3" y2="401.723" stroke="#111" stroke-width="1" />
<line x1="257.7" y1="406.245" x2="261.3" y2="406.245" stroke="#111" stroke-width="1" />
<circle cx="259.5" cy="403.984" r="1.4" fill="#111"/>
<line x1="273" y1="401.723" x2="273" y2="406.245" stroke="#111" stroke-width="1" />
<line x1="271.2" y1="401.723" x2="274.8" y2="401.723" stroke="#111" stroke-width="1" />
<line x1="271.2" y1="406.245" x2="274.8" y2="406.245" stroke="#111" stroke-width="1" />
<circle cx="273" cy="403.984" r="1.4" fill="#111"/>
<line x1="286.5" y1="405.276" x2="286.5" y2="406.568" stroke="#111" stroke-width="1" />
<line x1="284.7" y1="405.276" x2="288.3" y2="405.276" stroke="#111" stroke-width="1" />
<line x1="284.7" y1="406.568" x2="288.3" y2="406.568" stroke="#111" stroke-width="1" />
<circle cx="286.5" cy="405.922" r="1.4" fill="#111"/>
<line x1="300" y1="406.568" x2="300" y2="407.86" stroke="#111" stroke-width="1" />
<line x1="298.2" y1="406.568" x2="301.8" y2="406.568" stroke="#111" stroke-width="1" />
<line x1="298.2" y1="407.86" x2="301.8" y2="407.86" stroke="#111" stroke-width="1" />
<circle cx="300" cy="407.214" r="1.4" fill="#111"/>
<text stroke="#111" stroke-width="0.08" x="426.3" y="18.1" font-size="10.2" text-anchor="middle" font-weight="bold" font-style="normal" fill="#111" font-family="Liberation Sans" textLength="30.3" lengthAdjust="spacingAndGlyphs">OPM-2</text>
<line x1="361.2" y1="39" x2="361.2" y2="130.3" stroke="#1a1a1a" stroke-width="1.1" />
<line x1="360.7" y1="130.20000000000002" x2="490.8" y2="130.20000000000002" stroke="#111" stroke-width="1.35" />
<line x1="358" y1="129.8" x2="361.2" y2="129.8" stroke="#1a1a1a" stroke-width="1" />
<text stroke="#333" stroke-width="0.08" x="355.2" y="132.20000000000002" font-size="6.6" text-anchor="end" font-weight="normal" font-style="normal" fill="#333" font-family="Liberation Sans" >0</text>
<line x1="358" y1="93.50000000000001" x2="361.2" y2="93.50000000000001" stroke="#1a1a1a" stroke-width="1" />
<text stroke="#333" stroke-width="0.08" x="355.2" y="95.90000000000002" font-size="6.6" text-anchor="end" font-weight="normal" font-style="normal" fill="#333" font-family="Liberation Sans" >10</text>
<line x1="358" y1="57.20000000000002" x2="361.2" y2="57.20000000000002" stroke="#1a1a1a" stroke-width="1" />
<text stroke="#333" stroke-width="0.08" x="355.2" y="59.600000000000016" font-size="6.6" text-anchor="end" font-weight="normal" font-style="normal" fill="#333" font-family="Liberation Sans" >20</text>
<text stroke="#222" stroke-width="0.08" transform="translate(341.8,84.6) rotate(-90)" font-size="7.6" text-anchor="middle" fill="#222" font-family="Liberation Sans">% PI positive cells</text>
<line x1="376.2" y1="117.6" x2="376.2" y2="119.6" stroke="#bababa" stroke-width="1" />
<line x1="373.7" y1="117.6" x2="378.7" y2="117.6" stroke="#bababa" stroke-width="1" />
<rect x="371.2" y="118.6" width="10.0" height="11.200000000000017" fill="#bababa" />
<rect x="390.7" y="120.4" width="9.800000000000011" height="9.400000000000006" fill="#7a7a7a" />
<line x1="415.1" y1="121.6" x2="415.1" y2="123.4" stroke="#3a3a3a" stroke-width="1" />
<line x1="412.6" y1="121.6" x2="417.6" y2="121.6" stroke="#3a3a3a" stroke-width="1" />
<rect x="410.2" y="122.4" width="9.800000000000011" height="7.400000000000006" fill="#3a3a3a" />
<rect x="432.4" y="114.2" width="10.0" height="15.600000000000009" fill="#ebeddf" />
<line x1="457.0" y1="39" x2="457.0" y2="49.7" stroke="#d6dbb8" stroke-width="1" />
<line x1="454.5" y1="39" x2="459.5" y2="39" stroke="#d6dbb8" stroke-width="1" />
<rect x="452" y="48.7" width="10" height="81.10000000000001" fill="#d6dbb8" />
<line x1="476.3" y1="113" x2="476.3" y2="115.2" stroke="#c8cc98" stroke-width="1" />
<line x1="473.8" y1="113" x2="478.8" y2="113" stroke="#c8cc98" stroke-width="1" />
<rect x="471.6" y="114.2" width="9.399999999999977" height="15.600000000000009" fill="#c8cc98" />
<path d="M371.6,111 V108 H418.6 V111" fill="none" stroke="#222" stroke-width="1.4"/>
<text stroke="#222" stroke-width="0.08" x="395.2" y="104" font-size="6" text-anchor="middle" font-weight="normal" font-style="normal" fill="#222" font-family="Liberation Sans" >sgEV</text>
<path d="M432.8,35.8 V32.8 H481 V35.8" fill="none" stroke="#222" stroke-width="1.4"/>
<text stroke="#222" stroke-width="0.08" x="456.8" y="28.2" font-size="6" text-anchor="middle" fill="#222" font-family="Liberation Sans">sg<tspan font-style="italic">MCL1</tspan></text>
<text stroke="#222" stroke-width="0.08" x="333.9" y="140" font-size="6.8" text-anchor="start" font-weight="normal" font-style="normal" fill="#222" font-family="Liberation Sans" >DOX</text>
<text stroke="#222" stroke-width="0.08" x="333.9" y="147.6" font-size="6.8" text-anchor="start" font-weight="normal" font-style="normal" fill="#222" font-family="Liberation Sans" >QVD</text>
<text stroke="#222" stroke-width="0.08" x="376.2" y="140.2" font-size="6.4" text-anchor="middle" font-weight="normal" font-style="normal" fill="#222" font-family="Liberation Sans" >-</text>
<text stroke="#222" stroke-width="0.08" x="376.2" y="147.8" font-size="6.4" text-anchor="middle" font-weight="normal" font-style="normal" fill="#222" font-family="Liberation Sans" >-</text>
<text stroke="#222" stroke-width="0.08" x="395.6" y="140.2" font-size="6.4" text-anchor="middle" font-weight="normal" font-style="normal" fill="#222" font-family="Liberation Sans" >+</text>
<text stroke="#222" stroke-width="0.08" x="395.6" y="147.8" font-size="6.4" text-anchor="middle" font-weight="normal" font-style="normal" fill="#222" font-family="Liberation Sans" >-</text>
<text stroke="#222" stroke-width="0.08" x="415.1" y="140.2" font-size="6.4" text-anchor="middle" font-weight="normal" font-style="normal" fill="#222" font-family="Liberation Sans" >+</text>
<text stroke="#222" stroke-width="0.08" x="415.1" y="147.8" font-size="6.4" text-anchor="middle" font-weight="normal" font-style="normal" fill="#222" font-family="Liberation Sans" >+</text>
<text stroke="#222" stroke-width="0.08" x="437.4" y="140.2" font-size="6.4" text-anchor="middle" font-weight="normal" font-style="normal" fill="#222" font-family="Liberation Sans" >-</text>
<text stroke="#222" stroke-width="0.08" x="437.4" y="147.8" font-size="6.4" text-anchor="middle" font-weight="normal" font-style="normal" fill="#222" font-family="Liberation Sans" >-</text>
<text stroke="#222" stroke-width="0.08" x="457" y="140.2" font-size="6.4" text-anchor="middle" font-weight="normal" font-style="normal" fill="#222" font-family="Liberation Sans" >+</text>
<text stroke="#222" stroke-width="0.08" x="457" y="147.8" font-size="6.4" text-anchor="middle" font-weight="normal" font-style="normal" fill="#222" font-family="Liberation Sans" >-</text>
<text stroke="#222" stroke-width="0.08" x="476.3" y="140.2" font-size="6.4" text-anchor="middle" font-weight="normal" font-style="normal" fill="#222" font-family="Liberation Sans" >+</text>
<text stroke="#222" stroke-width="0.08" x="476.3" y="147.8" font-size="6.4" text-anchor="middle" font-weight="normal" font-style="normal" fill="#222" font-family="Liberation Sans" >+</text>
<line x1="361.2" y1="195.5" x2="361.2" y2="298.5" stroke="#1a1a1a" stroke-width="1.1" />
<line x1="360.7" y1="298.3" x2="491" y2="298.3" stroke="#111" stroke-width="1.35" />
<line x1="357.5" y1="298.0" x2="361.2" y2="298.0" stroke="#1a1a1a" stroke-width="1" />
<line x1="357.5" y1="247.7" x2="361.2" y2="247.7" stroke="#1a1a1a" stroke-width="1" />
<line x1="357.5" y1="197.4" x2="361.2" y2="197.4" stroke="#1a1a1a" stroke-width="1" />
<line x1="359" y1="282.85819121810175" x2="361.2" y2="282.85819121810175" stroke="#1a1a1a" stroke-width="0.8" />
<line x1="359" y1="274.000800887601" x2="361.2" y2="274.000800887601" stroke="#1a1a1a" stroke-width="0.8" />
<line x1="359" y1="267.7163824362035" x2="361.2" y2="267.7163824362035" stroke="#1a1a1a" stroke-width="0.8" />
<line x1="359" y1="262.84180878189824" x2="361.2" y2="262.84180878189824" stroke="#1a1a1a" stroke-width="0.8" />
<line x1="359" y1="258.8589921057027" x2="361.2" y2="258.8589921057027" stroke="#1a1a1a" stroke-width="0.8" />
<line x1="359" y1="255.49156858728287" x2="361.2" y2="255.49156858728287" stroke="#1a1a1a" stroke-width="0.8" />
<line x1="359" y1="252.57457365430525" x2="361.2" y2="252.57457365430525" stroke="#1a1a1a" stroke-width="0.8" />
<line x1="359" y1="250.00160177520195" x2="361.2" y2="250.00160177520195" stroke="#1a1a1a" stroke-width="0.8" />
<line x1="359" y1="232.55819121810174" x2="361.2" y2="232.55819121810174" stroke="#1a1a1a" stroke-width="0.8" />
<line x1="359" y1="223.700800887601" x2="361.2" y2="223.700800887601" stroke="#1a1a1a" stroke-width="0.8" />
<line x1="359" y1="217.4163824362035" x2="361.2" y2="217.4163824362035" stroke="#1a1a1a" stroke-width="0.8" />
<line x1="359" y1="212.54180878189828" x2="361.2" y2="212.54180878189828" stroke="#1a1a1a" stroke-width="0.8" />
<line x1="359" y1="208.5589921057027" x2="361.2" y2="208.5589921057027" stroke="#1a1a1a" stroke-width="0.8" />
<line x1="359" y1="205.1915685872829" x2="361.2" y2="205.1915685872829" stroke="#1a1a1a" stroke-width="0.8" />
<line x1="359" y1="202.27457365430524" x2="361.2" y2="202.27457365430524" stroke="#1a1a1a" stroke-width="0.8" />
<line x1="359" y1="199.70160177520196" x2="361.2" y2="199.70160177520196" stroke="#1a1a1a" stroke-width="0.8" />
<text stroke="#333" stroke-width="0.08" x="355.2" y="199.8" font-size="6.6" text-anchor="end" font-weight="normal" font-style="normal" fill="#333" font-family="Liberation Sans" >10</text>
<text stroke="#333" stroke-width="0.08" x="355.2" y="250.1" font-size="6.6" text-anchor="end" font-weight="normal" font-style="normal" fill="#333" font-family="Liberation Sans" >1</text>
<text stroke="#333" stroke-width="0.08" x="355.2" y="300.4" font-size="6.6" text-anchor="end" font-weight="normal" font-style="normal" fill="#333" font-family="Liberation Sans" >0.1</text>
<text stroke="#222" stroke-width="0.08" transform="translate(342.8,246.6) rotate(-90)" font-size="8.2" text-anchor="middle" fill="#222" font-family="Liberation Sans">IC50 (μM)</text>
<rect x="377.7" y="197.5" width="12.600000000000023" height="100.5" fill="#c5d5cf" />
<rect x="397.3" y="197.5" width="12.699999999999989" height="100.5" fill="#8fb0a0" />
<rect x="430.2" y="214.6" width="12.5" height="83.4" fill="#e8e0c8" />
<rect x="449.3" y="283.5" width="13.199999999999989" height="14.5" fill="#d4c48e" />
<line x1="394" y1="298" x2="394" y2="300.6" stroke="#1a1a1a" stroke-width="1" />
<line x1="446.2" y1="298" x2="446.2" y2="300.6" stroke="#1a1a1a" stroke-width="1" />
<path d="M377.9,196.3 V193.3 H408.4 V196.3" fill="none" stroke="#222" stroke-width="1.4"/>
<text stroke="#222" stroke-width="0.08" x="393.2" y="188.5" font-size="5.3" text-anchor="middle" font-weight="normal" font-style="normal" fill="#222" font-family="Liberation Sans" >ABT-199</text>
<path d="M430.8,211.5 V208.5 H461.5 V211.5" fill="none" stroke="#222" stroke-width="1.4"/>
<text stroke="#222" stroke-width="0.08" x="446.2" y="204.7" font-size="5.3" text-anchor="middle" font-weight="normal" font-style="normal" fill="#222" font-family="Liberation Sans" >A5463</text>
<text stroke="#222" stroke-width="0.08" x="356.4" y="310" font-size="6.8" text-anchor="start" font-weight="normal" font-style="normal" fill="#222" font-family="Liberation Sans" >DOX</text>
<text stroke="#222" stroke-width="0.08" x="344.3" y="318.8" font-size="6.8" fill="#222" font-family="Liberation Sans">(sg<tspan font-style="italic">MCL1</tspan> #1)</text>
<text stroke="#222" stroke-width="0.08" x="383.9" y="310.2" font-size="6.4" text-anchor="middle" font-weight="normal" font-style="normal" fill="#222" font-family="Liberation Sans" >-</text>
<text stroke="#222" stroke-width="0.08" x="403.5" y="310.2" font-size="6.4" text-anchor="middle" font-weight="normal" font-style="normal" fill="#222" font-family="Liberation Sans" >+</text>
<text stroke="#222" stroke-width="0.08" x="436" y="310.2" font-size="6.4" text-anchor="middle" font-weight="normal" font-style="normal" fill="#222" font-family="Liberation Sans" >-</text>
<text stroke="#222" stroke-width="0.08" x="455.8" y="310.2" font-size="6.4" text-anchor="middle" font-weight="normal" font-style="normal" fill="#222" font-family="Liberation Sans" >+</text>
<text stroke="#111" stroke-width="0.08" x="425.7" y="354.1" font-size="8.4" text-anchor="middle" font-weight="bold" font-style="normal" fill="#111" font-family="Liberation Sans" textLength="30.9" lengthAdjust="spacingAndGlyphs">U266B1</text>
<line x1="395.1" y1="356.4" x2="452.6" y2="356.4" stroke="#111" stroke-width="1.1" />
<text stroke="#111" stroke-width="0.08" x="426.0" y="366.3" font-size="8.4" text-anchor="middle" font-weight="bold" font-style="normal" fill="#111" font-family="Liberation Sans" textLength="54.6" lengthAdjust="spacingAndGlyphs">EV sg#1 sg#2</text>
<rect x="391.9" y="370.6" width="60.4" height="17.20000000000001" fill="#e6e6e6" stroke="#2a2a2a" stroke-width="1.6"/>
<text x="388.9" y="382.8" font-size="9.3" text-anchor="end" font-weight="bold" font-style="normal" fill="#111" font-family="Liberation Sans" stroke="#111" stroke-width="0.3" textLength="41.08" lengthAdjust="spacingAndGlyphs">anti-BCL2</text>
<rect x="391.9" y="391.1" width="60.4" height="17.4" fill="#b4b4b4" stroke="#2a2a2a" stroke-width="1.6"/>
<text x="388.9" y="402.5" font-size="9.3" text-anchor="end" font-weight="bold" font-style="normal" fill="#111" font-family="Liberation Sans" stroke="#111" stroke-width="0.3" textLength="45.93" lengthAdjust="spacingAndGlyphs">anti-HSP70</text>
<rect x="391.9" y="414.3" width="60.4" height="17.20000000000001" fill="#e4e4e4" stroke="#2a2a2a" stroke-width="1.6"/>
<text x="388.9" y="427.59999999999997" font-size="9.3" text-anchor="end" font-weight="bold" font-style="normal" fill="#111" font-family="Liberation Sans" stroke="#111" stroke-width="0.3" textLength="47.36" lengthAdjust="spacingAndGlyphs">anti-BCLXL</text>
<rect x="391.9" y="434.8" width="60.4" height="18.799999999999976" fill="#b6b6b6" stroke="#2a2a2a" stroke-width="1.6"/>
<text x="388.9" y="447.8" font-size="9.3" text-anchor="end" font-weight="bold" font-style="normal" fill="#111" font-family="Liberation Sans" stroke="#111" stroke-width="0.3" textLength="45.93" lengthAdjust="spacingAndGlyphs">anti-HSP70</text>
<rect x="391.9" y="459.2" width="60.4" height="20.20000000000001" fill="#c8c8c8" stroke="#2a2a2a" stroke-width="1.6"/>
<text x="388.9" y="474.09999999999997" font-size="9.3" text-anchor="end" font-weight="bold" font-style="normal" fill="#111" font-family="Liberation Sans" stroke="#111" stroke-width="0.3" textLength="44.46" lengthAdjust="spacingAndGlyphs">anti-BCLW</text>
<rect x="391.9" y="483.2" width="60.4" height="18.00000000000002" fill="#bfbfbf" stroke="#2a2a2a" stroke-width="1.6"/>
<text x="388.9" y="495.7" font-size="9.3" text-anchor="end" font-weight="bold" font-style="normal" fill="#111" font-family="Liberation Sans" stroke="#111" stroke-width="0.3" textLength="45.93" lengthAdjust="spacingAndGlyphs">anti-HSP70</text>
<rect x="391.9" y="508.2" width="60.4" height="16.799999999999976" fill="#cfcfcf" stroke="#2a2a2a" stroke-width="1.6"/>
<text x="388.9" y="519.8000000000001" font-size="9.3" text-anchor="end" font-weight="bold" font-style="normal" fill="#111" font-family="Liberation Sans" stroke="#111" stroke-width="0.3" textLength="42.05" lengthAdjust="spacingAndGlyphs">anti-MCL1</text>
<rect x="391.9" y="528.9" width="60.4" height="14.299999999999978" fill="#bcbcbc" stroke="#2a2a2a" stroke-width="1.6"/>
<text x="388.9" y="538.8000000000001" font-size="9.3" text-anchor="end" font-weight="bold" font-style="normal" fill="#111" font-family="Liberation Sans" stroke="#111" stroke-width="0.3" textLength="45.93" lengthAdjust="spacingAndGlyphs">anti-HSP70</text>
<rect x="398.3" y="375.45" width="14.699999999999989" height="6.5" rx="3.25" fill="#050505" opacity="1" filter="url(#bl)"/>
<rect x="417.3" y="377.35" width="12.5" height="2.9" rx="1.45" fill="#8a8a8a" opacity="1" filter="url(#bl)"/>
<rect x="436" y="377.55" width="11.5" height="2.5" rx="1.25" fill="#d0d0d0" opacity="1" filter="url(#bl)"/>
<rect x="398" y="397.34999999999997" width="13.600000000000023" height="5.1" rx="2.55" fill="#111" opacity="1" filter="url(#bl)"/>
<rect x="415.6" y="397.45" width="13.199999999999989" height="4.7" rx="2.35" fill="#111" opacity="1" filter="url(#bl)"/>
<rect x="433.1" y="397.05" width="14.399999999999977" height="5.3" rx="2.65" fill="#111" opacity="1" filter="url(#bl)"/>
<rect x="398.1" y="419.95" width="12.699999999999989" height="3.9" rx="1.95" fill="#080808" opacity="1" filter="url(#bl)"/>
<rect x="416.3" y="421.45" width="11.300000000000011" height="2.6999999999999997" rx="1.3499999999999999" fill="#8c8c8c" opacity="1" filter="url(#bl)"/>
<rect x="434.4" y="421.05" width="11.0" height="2.3" rx="1.15" fill="#d0d0d0" opacity="1" filter="url(#bl)"/>
<rect x="397.5" y="442.25" width="13.800000000000011" height="4.7" rx="2.35" fill="#0d0d0d" opacity="1" filter="url(#bl)"/>
<rect x="415" y="442.15" width="14.399999999999977" height="4.5" rx="2.25" fill="#111" opacity="1" filter="url(#bl)"/>
<rect x="433.1" y="440.45" width="14.399999999999977" height="4.8999999999999995" rx="2.4499999999999997" fill="#0d0d0d" opacity="1" filter="url(#bl)"/>
<rect x="396.5" y="470.75" width="13.699999999999989" height="3.0999999999999996" rx="1.5499999999999998" fill="#151515" opacity="1" filter="url(#bl)"/>
<rect x="414.6" y="471.35" width="13.699999999999989" height="2.3" rx="1.15" fill="#a8a8a8" opacity="1" filter="url(#bl)"/>
<rect x="434" y="463.95" width="12.300000000000011" height="2.6999999999999997" rx="1.3499999999999999" fill="#9a9a9a" opacity="1" filter="url(#bl)"/>
<rect x="395.8" y="491.35" width="13.5" height="2.9" rx="1.45" fill="#151515" opacity="1" filter="url(#bl)"/>
<rect x="413" y="491.35" width="13.800000000000011" height="2.9" rx="1.45" fill="#151515" opacity="1" filter="url(#bl)"/>
<rect x="430.9" y="490.95" width="13.200000000000045" height="3.0999999999999996" rx="1.5499999999999998" fill="#151515" opacity="1" filter="url(#bl)"/>
<rect x="396.9" y="515.35" width="12.5" height="3.0999999999999996" rx="1.5499999999999998" fill="#151515" opacity="1" filter="url(#bl)"/>
<rect x="415" y="515.95" width="11.300000000000011" height="2.3" rx="1.15" fill="#ababab" opacity="1" filter="url(#bl)"/>
<rect x="432.5" y="515.55" width="11.300000000000011" height="2.6999999999999997" rx="1.3499999999999999" fill="#808080" opacity="1" filter="url(#bl)"/>
<rect x="396.3" y="534.35" width="13.699999999999989" height="4.7" rx="2.35" fill="#0a0a0a" opacity="1" filter="url(#bl)"/>
<rect x="413.1" y="534.45" width="13.799999999999955" height="4.5" rx="2.25" fill="#0a0a0a" opacity="1" filter="url(#bl)"/>
<rect x="430" y="534.15" width="15" height="4.8999999999999995" rx="2.4499999999999997" fill="#0a0a0a" opacity="1" filter="url(#bl)"/>
<line x1="25" y1="571.2" x2="383.6" y2="571.2" stroke="#111" stroke-width="1.6" />
<line x1="25" y1="582" x2="383.6" y2="582" stroke="#111" stroke-width="1.6" />
<line x1="25" y1="720.6" x2="383.6" y2="720.6" stroke="#111" stroke-width="1.8" />
<text x="181" y="580.5" font-size="8.8" text-anchor="middle" font-weight="bold" fill="#111" stroke="#111" stroke-width="0.3" font-family="Liberation Sans">sg<tspan font-style="italic">BCL2A1</tspan> #1</text>
<text stroke="#111" stroke-width="0.08" x="329.6" y="580.2" font-size="8.8" text-anchor="middle" font-weight="bold" font-style="normal" fill="#111" font-family="Liberation Sans" >Reads #</text>
<text stroke="#111" stroke-width="0.08" x="27.3" y="590.4" font-size="7.4" text-anchor="start" font-weight="bold" font-style="normal" fill="#111" font-family="Liberation Sans" >WT</text>
<text x="51.9" y="591.8" font-size="7.48" font-weight="bold" fill="#111" stroke="#111" stroke-width="0.15" font-family="Liberation Mono" xml:space="preserve"><tspan>5'..TATCTGCAGTGC</tspan><tspan fill="#4858a0" stroke="#4858a0">GTCCTACAGATACCACAACC</tspan><tspan fill="#6a6a78" stroke="#6a6a78">--</tspan><tspan text-decoration="underline">TGG</tspan><tspan>ATCAGGTCCAAGC..3'</tspan></text>
<text x="69.852" y="601.8" font-size="7.48" font-weight="bold" fill="#111" stroke="#111" stroke-width="0.15" font-family="Liberation Mono" xml:space="preserve"><tspan>-Y--L--Q--C--V--L--Q--I--P--Q--P----G--S--G--P--S</tspan></text>
<text x="27.3" y="613.8" font-size="8.1" text-anchor="start" font-weight="normal" font-style="normal" fill="#111" font-family="Liberation Sans" stroke="#111" stroke-width="0.35">+1</text>
<text x="69.6" y="614.6999999999999" font-size="7.48" font-weight="bold" fill="#111" stroke="#111" stroke-width="0.15" font-family="Liberation Mono" xml:space="preserve"><tspan>TATCTGCAGTGCGTCCTACAGATACCACA</tspan><tspan fill="#d02828" stroke="#d02828">A</tspan><tspan>ACC-TGGATCAGGTCCAAGC</tspan></text>
<text x="328.9" y="613.6999999999999" font-size="8.4" text-anchor="middle" font-weight="normal" font-style="normal" fill="#1a1a1a" font-family="Liberation Sans" textLength="15.8" lengthAdjust="spacingAndGlyphs" stroke="#1a1a1a" stroke-width="0.15">1347</text>
<text x="27.3" y="625.3" font-size="8.1" text-anchor="start" font-weight="normal" font-style="normal" fill="#111" font-family="Liberation Sans" stroke="#111" stroke-width="0.35">D6</text>
<text x="69.6" y="626.1999999999999" font-size="7.48" font-weight="bold" fill="#111" stroke="#111" stroke-width="0.15" font-family="Liberation Mono" xml:space="preserve"><tspan>TATCTGCAGTGCGTCCTACAGATACC</tspan><tspan fill="#d02828" stroke="#d02828">------</tspan><tspan>--TGGATCAGGTCCAAGC</tspan></text>
<text x="328.9" y="625.1999999999999" font-size="8.4" text-anchor="middle" font-weight="normal" font-style="normal" fill="#1a1a1a" font-family="Liberation Sans" textLength="15.8" lengthAdjust="spacingAndGlyphs" stroke="#1a1a1a" stroke-width="0.15">1068</text>
<text x="27.3" y="636.8" font-size="8.1" text-anchor="start" font-weight="normal" font-style="normal" fill="#111" font-family="Liberation Sans" stroke="#111" stroke-width="0.35">D1</text>
<text x="69.6" y="637.6999999999999" font-size="7.48" font-weight="bold" fill="#111" stroke="#111" stroke-width="0.15" font-family="Liberation Mono" xml:space="preserve"><tspan>TATCTGCAGTGCGTCCTACAGATACCACA</tspan><tspan fill="#d02828" stroke="#d02828">-</tspan><tspan>CC--TGGATCAGGTCCAAGC</tspan></text>
<text x="328.9" y="636.6999999999999" font-size="8.4" text-anchor="middle" font-weight="normal" font-style="normal" fill="#1a1a1a" font-family="Liberation Sans" textLength="11.850000000000001" lengthAdjust="spacingAndGlyphs" stroke="#1a1a1a" stroke-width="0.15">497</text>
<text x="27.3" y="648.1" font-size="8.1" text-anchor="start" font-weight="normal" font-style="normal" fill="#111" font-family="Liberation Sans" stroke="#111" stroke-width="0.35">D3</text>
<text x="69.6" y="649.0" font-size="7.48" font-weight="bold" fill="#111" stroke="#111" stroke-width="0.15" font-family="Liberation Mono" xml:space="preserve"><tspan>TATCTGCAGTGCGTCCTACAGATACCA</tspan><tspan fill="#d02828" stroke="#d02828">---</tspan><tspan>CC--TGGATCAGGTCCAAGC</tspan></text>
<text x="328.9" y="648.0" font-size="8.4" text-anchor="middle" font-weight="normal" font-style="normal" fill="#1a1a1a" font-family="Liberation Sans" textLength="11.850000000000001" lengthAdjust="spacingAndGlyphs" stroke="#1a1a1a" stroke-width="0.15">263</text>
<text x="27.3" y="659.5" font-size="8.1" text-anchor="start" font-weight="normal" font-style="normal" fill="#111" font-family="Liberation Sans" stroke="#111" stroke-width="0.35">Native</text>
<text x="69.6" y="660.4" font-size="7.48" font-weight="bold" fill="#111" stroke="#111" stroke-width="0.15" font-family="Liberation Mono" xml:space="preserve"><tspan>TATCTGCAGTGCGTCCTACAGATACCACAACC--TGGATCAGGTCCAAGC</tspan></text>
<text x="328.9" y="659.4" font-size="8.4" text-anchor="middle" font-weight="normal" font-style="normal" fill="#1a1a1a" font-family="Liberation Sans" textLength="11.850000000000001" lengthAdjust="spacingAndGlyphs" stroke="#1a1a1a" stroke-width="0.15">250</text>
<text x="27.3" y="670.8" font-size="8.1" text-anchor="start" font-weight="normal" font-style="normal" fill="#111" font-family="Liberation Sans" stroke="#111" stroke-width="0.35">+1</text>
<text x="69.6" y="671.6999999999999" font-size="7.48" font-weight="bold" fill="#111" stroke="#111" stroke-width="0.15" font-family="Liberation Mono" xml:space="preserve"><tspan>TATCTGCAGTGCGTCCTACAGATACCACA</tspan><tspan fill="#d02828" stroke="#d02828">C</tspan><tspan>ACC-TGGATCAGGTCCAAGC</tspan></text>
<text x="328.9" y="670.6999999999999" font-size="8.4" text-anchor="middle" font-weight="normal" font-style="normal" fill="#1a1a1a" font-family="Liberation Sans" textLength="11.850000000000001" lengthAdjust="spacingAndGlyphs" stroke="#1a1a1a" stroke-width="0.15">119</text>
<text x="27.3" y="682.3" font-size="8.1" text-anchor="start" font-weight="normal" font-style="normal" fill="#111" font-family="Liberation Sans" stroke="#111" stroke-width="0.35">+1</text>
<text x="69.6" y="683.1999999999999" font-size="7.48" font-weight="bold" fill="#111" stroke="#111" stroke-width="0.15" font-family="Liberation Mono" xml:space="preserve"><tspan>TATCTGCAGTGCGTCCTACAGATACCACA</tspan><tspan fill="#d02828" stroke="#d02828">T</tspan><tspan>ACC-TGGATCAGGTCCAAGC</tspan></text>
<text x="328.9" y="682.1999999999999" font-size="8.4" text-anchor="middle" font-weight="normal" font-style="normal" fill="#1a1a1a" font-family="Liberation Sans" textLength="11.850000000000001" lengthAdjust="spacingAndGlyphs" stroke="#1a1a1a" stroke-width="0.15">113</text>
<text x="27.3" y="693.9" font-size="8.1" text-anchor="start" font-weight="normal" font-style="normal" fill="#111" font-family="Liberation Sans" stroke="#111" stroke-width="0.35">D14</text>
<text x="69.6" y="694.8" font-size="7.48" font-weight="bold" fill="#111" stroke="#111" stroke-width="0.15" font-family="Liberation Mono" xml:space="preserve"><tspan>TATCTGCAGTGCGTCCTACAG</tspan><tspan fill="#d02828" stroke="#d02828">-----------</tspan><tspan>-----ATCAGGTCCAAGC</tspan></text>
<text x="328.9" y="693.8" font-size="8.4" text-anchor="middle" font-weight="normal" font-style="normal" fill="#1a1a1a" font-family="Liberation Sans" textLength="7.9" lengthAdjust="spacingAndGlyphs" stroke="#1a1a1a" stroke-width="0.15">98</text>
<text x="27.3" y="705.5" font-size="8.1" text-anchor="start" font-weight="normal" font-style="normal" fill="#111" font-family="Liberation Sans" stroke="#111" stroke-width="0.35">D2</text>
<text x="69.6" y="706.4" font-size="7.48" font-weight="bold" fill="#111" stroke="#111" stroke-width="0.15" font-family="Liberation Mono" xml:space="preserve"><tspan>TATCTGCAGTGCGTCCTACAGATACC</tspan><tspan fill="#d02828" stroke="#d02828">--</tspan><tspan>AACC--TGGATCAGGTCCAAGC</tspan></text>
<text x="328.9" y="705.4" font-size="8.4" text-anchor="middle" font-weight="normal" font-style="normal" fill="#1a1a1a" font-family="Liberation Sans" textLength="7.9" lengthAdjust="spacingAndGlyphs" stroke="#1a1a1a" stroke-width="0.15">79</text>
<text x="27.3" y="716.8" font-size="8.1" text-anchor="start" font-weight="normal" font-style="normal" fill="#111" font-family="Liberation Sans" stroke="#111" stroke-width="0.35">+1</text>
<text x="69.6" y="717.6999999999999" font-size="7.48" font-weight="bold" fill="#111" stroke="#111" stroke-width="0.15" font-family="Liberation Mono" xml:space="preserve"><tspan>TATCTGCAGTGCGTCCTACAGATACCACA</tspan><tspan fill="#d02828" stroke="#d02828">G</tspan><tspan>ACC-TGGATCAGGTCCAAGC</tspan></text>
<text x="328.9" y="716.6999999999999" font-size="8.4" text-anchor="middle" font-weight="normal" font-style="normal" fill="#1a1a1a" font-family="Liberation Sans" textLength="7.9" lengthAdjust="spacingAndGlyphs" stroke="#1a1a1a" stroke-width="0.15">68</text>
<text x="364" y="637" font-size="8.2" text-anchor="middle" font-weight="normal" font-style="normal" fill="#cf5a2e" font-family="Liberation Sans" stroke="#cf5a2e" stroke-width="0.2">% indel</text>
<text x="364" y="648" font-size="8.2" text-anchor="middle" font-weight="normal" font-style="normal" fill="#cf5a2e" font-family="Liberation Sans" stroke="#cf5a2e" stroke-width="0.2">=</text>
<text x="364" y="659.6" font-size="8.2" text-anchor="middle" font-weight="normal" font-style="normal" fill="#cf5a2e" font-family="Liberation Sans" stroke="#cf5a2e" stroke-width="0.2">94%</text>
<path d="M464.6,625.4 L464.60,578.50 A46.9,46.9 0 0 1 482.55,582.07 Z" fill="#3350a0"/>
<path d="M464.6,625.4 L482.55,582.07 A46.9,46.9 0 0 1 490.62,664.42 Z" fill="#eac9a4"/>
<path d="M464.6,625.4 L490.62,664.42 A46.9,46.9 0 1 1 464.60,578.50 Z" fill="#c92b22"/>
<rect x="433.9" y="682.0" width="5.8" height="6.2" fill="#3350a0" />
<text stroke="#151515" stroke-width="0.08" x="441.2" y="688.7" font-size="9.7" text-anchor="start" font-weight="normal" font-style="normal" fill="#151515" font-family="Liberation Sans" >Native</text>
<rect x="433.9" y="695.4" width="5.8" height="6.2" fill="#eac9a4" />
<text stroke="#151515" stroke-width="0.08" x="441.2" y="702.1" font-size="9.7" text-anchor="start" font-weight="normal" font-style="normal" fill="#151515" font-family="Liberation Sans" >In frame indel</text>
<rect x="433.9" y="708.6999999999999" width="5.8" height="6.2" fill="#c92b22" />
<text stroke="#151515" stroke-width="0.08" x="441.2" y="715.4" font-size="9.7" text-anchor="start" font-weight="normal" font-style="normal" fill="#151515" font-family="Liberation Sans" >Frame shift</text>
</svg>
</body></html>
